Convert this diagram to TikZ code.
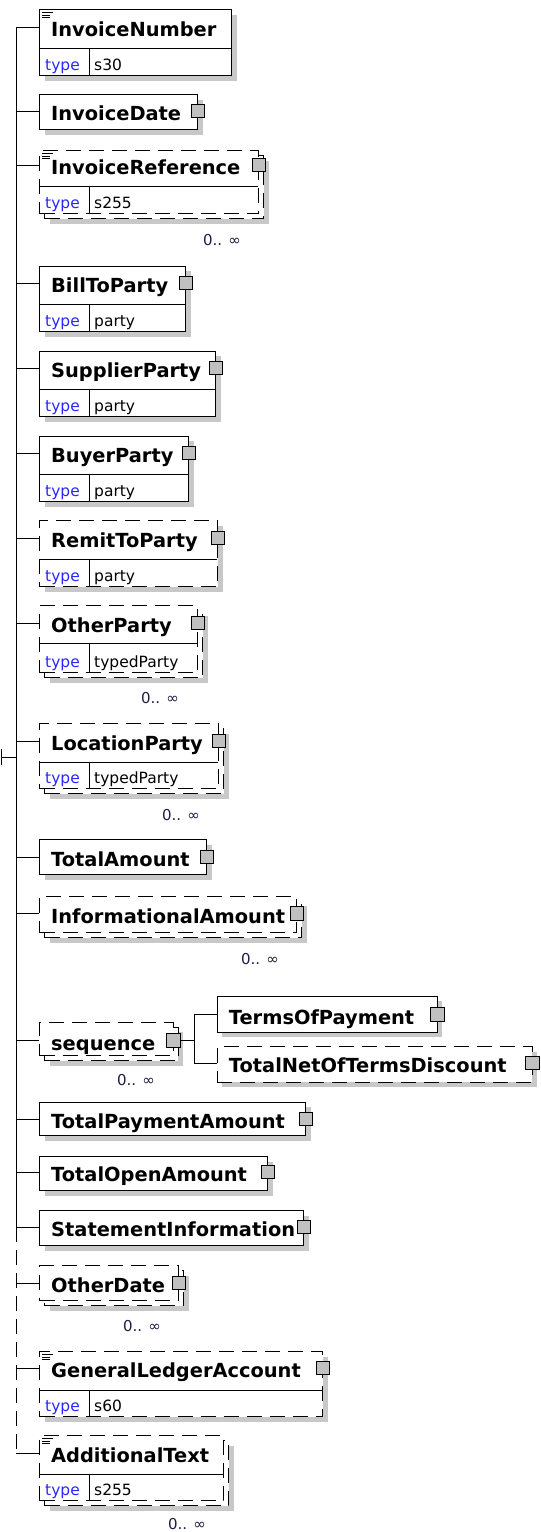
\documentclass[tikz,border=0pt]{standalone}
\usepackage{fontspec}
\setmainfont{DejaVu Sans}
\newcommand\xnamefont{\fontsize{19.4}{24}\selectfont\bfseries}
\newcommand\xtypefont{\fontsize{15.5}{18}\selectfont}
\newcommand\xmultfont{\fontsize{15}{18}\selectfont}
\definecolor{shadowgray}{RGB}{200,200,200}
\definecolor{typeblue}{RGB}{40,40,255}
\definecolor{expgray}{RGB}{192,192,192}
\definecolor{multcol}{RGB}{30,30,70}
\tikzset{
  solidbox/.style={draw=black, line width=1pt, fill=white, inner sep=0pt, anchor=north west},
  dashbox/.style={solidbox, dash pattern=on 15pt off 8pt},
  dropsh/.style={preaction={fill=shadowgray, draw=none, transform canvas={shift={(5pt,-5pt)}}}},
  elname/.style={font=\xnamefont, anchor=west, inner sep=0pt, text height=20pt, text depth=1pt},
  tkey/.style={font=\xtypefont, text=typeblue, anchor=base west, inner sep=0pt},
  tval/.style={font=\xtypefont, anchor=base west, inner sep=0pt},
  multlbl/.style={font=\xmultfont, text=multcol, inner sep=0pt},
  plusbox/.style={draw=black, fill=expgray, line width=1pt, minimum width=13.5pt, minimum height=13.5pt, inner sep=0pt},
  wire/.style={line width=1pt},
  dwire/.style={line width=1pt, dash pattern=on 15pt off 8pt},
  menuln/.style={line width=0.9pt},
}
\begin{document}
\begin{tikzpicture}[x=1pt, y=-1pt]
\useasboundingbox (0,0) rectangle (541,1532);
\fill[white] (0,0) rectangle (541,1532);

% 1 InvoiceNumber
\node[solidbox, dropsh, minimum width=192pt, minimum height=65.7pt] (b1) at (39,9.3) {};
\draw[wire] (39,48) -- (231,48);
\draw[wire] (89,48) -- (89,75);
\draw[menuln] (42,12.5) -- (53,12.5) (42,15) -- (50,15) (42,17.5) -- (50,17.5);
\node[elname] (l1) at (51,27) {InvoiceNumber};
\node[tkey] (k1) at (45,70) {type};
\node[tval] (v1) at (94,70) {s30};

% 2 InvoiceDate
\node[solidbox, dropsh, minimum width=158pt, minimum height=35pt] (b2) at (39,94) {};
\node[elname] (l2) at (51,111) {InvoiceDate};
\node[plusbox] (s2) at (b2.east |- l2.west) {};

% 3 InvoiceReference
\node[dashbox, dropsh, minimum width=219pt, minimum height=63pt] (bb3) at (44,155) {};
\node[dashbox, minimum width=219pt, minimum height=63pt] (b3) at (39,150) {};
\draw[wire] (39,186.7) -- (258,186.7);
\draw[wire] (89,186.7) -- (89,213);
\draw[menuln] (42,153.5) -- (53,153.5) (42,156) -- (50,156) (42,158.5) -- (50,158.5);
\node[elname] (l3) at (51,165) {InvoiceReference};
\node[plusbox] (s3) at (b3.east |- l3.west) {};
\node[tkey] (k3) at (45,208) {type};
\node[tval] (v3) at (94,208) {s255};
\node[multlbl] (m3) at (222,240) {0.. ∞};

% 4 BillToParty
\node[solidbox, dropsh, minimum width=146pt, minimum height=65.3pt] (b4) at (39,265.7) {};
\draw[wire] (39,304) -- (185,304);
\draw[wire] (89,304) -- (89,331);
\node[elname] (l4) at (51,283) {BillToParty};
\node[plusbox] (s4) at (b4.east |- l4.west) {};
\node[tkey] (k4) at (45,326) {type};
\node[tval] (v4) at (94,326) {party};

% 5 SupplierParty
\node[solidbox, dropsh, minimum width=176pt, minimum height=65.3pt] (b5) at (39,350.7) {};
\draw[wire] (39,389) -- (215,389);
\draw[wire] (89,389) -- (89,416);
\node[elname] (l5) at (51,368) {SupplierParty};
\node[plusbox] (s5) at (b5.east |- l5.west) {};
\node[tkey] (k5) at (45,411) {type};
\node[tval] (v5) at (94,411) {party};

% 6 BuyerParty
\node[solidbox, dropsh, minimum width=149pt, minimum height=65.3pt] (b6) at (39,435.7) {};
\draw[wire] (39,474) -- (188,474);
\draw[wire] (89,474) -- (89,501);
\node[elname] (l6) at (51,453) {BuyerParty};
\node[plusbox] (s6) at (b6.east |- l6.west) {};
\node[tkey] (k6) at (45,496) {type};
\node[tval] (v6) at (94,496) {party};

% 7 RemitToParty
\node[dashbox, dropsh, minimum width=178pt, minimum height=66pt] (b7) at (39,520) {};
\draw[wire] (39,559) -- (217,559);
\draw[wire] (89,559) -- (89,586);
\node[elname] (l7) at (51,538) {RemitToParty};
\node[plusbox] (s7) at (b7.east |- l7.west) {};
\node[tkey] (k7) at (45,581) {type};
\node[tval] (v7) at (94,581) {party};

% 8 OtherParty
\node[dashbox, dropsh, minimum width=158pt, minimum height=67pt] (bb8) at (44,610) {};
\node[dashbox, minimum width=158pt, minimum height=67pt] (b8) at (39,605) {};
\draw[wire] (39,643) -- (197,643);
\draw[wire] (89,643) -- (89,672);
\node[elname] (l8) at (51,623) {OtherParty};
\node[plusbox] (s8) at (b8.east |- l8.west) {};
\node[tkey] (k8) at (45,667) {type};
\node[tval] (v8) at (94,667) {typedParty};
\node[multlbl] (m8) at (160,698) {0.. ∞};

% 9 LocationParty
\node[dashbox, dropsh, minimum width=179pt, minimum height=65pt] (bb9) at (44,728) {};
\node[dashbox, minimum width=179pt, minimum height=65pt] (b9) at (39,723) {};
\draw[wire] (39,762) -- (218,762);
\draw[wire] (89,762) -- (89,788);
\node[elname] (l9) at (51,741) {LocationParty};
\node[plusbox] (s9) at (b9.east |- l9.west) {};
\node[tkey] (k9) at (45,783) {type};
\node[tval] (v9) at (94,783) {typedParty};
\node[multlbl] (m9) at (181,815) {0.. ∞};

% 10 TotalAmount
\node[solidbox, dropsh, minimum width=167pt, minimum height=35pt] (b10) at (39,839) {};
\node[elname] (l10) at (51,857) {TotalAmount};
\node[plusbox] (s10) at (b10.east |- l10.west) {};

% 11 InformationalAmount
\node[dashbox, dropsh, minimum width=257pt, minimum height=36.5pt] (bb11) at (44,900.5) {};
\node[dashbox, minimum width=257pt, minimum height=36.5pt] (b11) at (39,895.5) {};
\node[elname] (l11) at (51,913.5) {InformationalAmount};
\node[plusbox] (s11) at (b11.east |- l11.west) {};
\node[multlbl] (m11) at (260,959) {0.. ∞};

% 12 sequence
\node[dashbox, dropsh, minimum width=133.5pt, minimum height=33.5pt] (bb12) at (44,1026.5) {};
\node[dashbox, minimum width=133.5pt, minimum height=33.5pt] (b12) at (39,1021.5) {};
\node[elname] (l12) at (51,1040.5) {sequence};
\node[plusbox] (s12) at (b12.east |- l12.west) {};
\node[multlbl] (m12) at (136,1080) {0.. ∞};

% 13 TermsOfPayment
\node[solidbox, dropsh, minimum width=219.8pt, minimum height=36.2pt] (b13) at (216.7,995.6) {};
\node[elname] (l13) at (228.7,1014.6) {TermsOfPayment};
\node[plusbox] (s13) at (b13.east |- l13.west) {};

% 14 TotalNetOfTermsDiscount
\node[dashbox, dropsh, minimum width=315pt, minimum height=35.7pt] (b14) at (216.7,1046) {};
\node[elname] (l14) at (228.7,1063) {TotalNetOfTermsDiscount};
\node[plusbox] (s14) at (b14.east |- l14.west) {};

% 15 TotalPaymentAmount
\node[solidbox, dropsh, minimum width=266pt, minimum height=33.3pt] (b15) at (39,1101.7) {};
\node[elname] (l15) at (51,1119) {TotalPaymentAmount};
\node[plusbox] (s15) at (b15.east |- l15.west) {};

% 16 TotalOpenAmount
\node[solidbox, dropsh, minimum width=228pt, minimum height=34pt] (b16) at (39,1156) {};
\node[elname] (l16) at (51,1172) {TotalOpenAmount};
\node[plusbox] (s16) at (b16.east |- l16.west) {};

% 17 StatementInformation
\node[solidbox, dropsh, minimum width=264pt, minimum height=35pt] (b17) at (39,1210) {};
\node[elname] (l17) at (51,1227) {StatementInformation};
\node[plusbox] (s17) at (b17.east |- l17.west) {};

% 18 OtherDate
\node[dashbox, dropsh, minimum width=139pt, minimum height=35pt] (bb18) at (44,1270) {};
\node[dashbox, minimum width=139pt, minimum height=35pt] (b18) at (39,1265) {};
\node[elname] (l18) at (51,1283) {OtherDate};
\node[plusbox] (s18) at (b18.east |- l18.west) {};
\node[multlbl] (m18) at (142,1326) {0.. ∞};

% 19 GeneralLedgerAccount
\node[dashbox, dropsh, minimum width=283pt, minimum height=65pt] (b19) at (39,1351) {};
\draw[wire] (39,1390) -- (322,1390);
\draw[wire] (89,1390) -- (89,1416);
\draw[menuln] (42,1354.5) -- (53,1354.5) (42,1357) -- (50,1357) (42,1359.5) -- (50,1359.5);
\node[elname] (l19) at (51,1368) {GeneralLedgerAccount};
\node[plusbox] (s19) at (b19.east |- l19.west) {};
\node[tkey] (k19) at (45,1411) {type};
\node[tval] (v19) at (94,1411) {s60};

% 20 AdditionalText
\node[dashbox, dropsh, minimum width=184pt, minimum height=65pt] (bb20) at (44,1440) {};
\node[dashbox, minimum width=184pt, minimum height=65pt] (b20) at (39,1435) {};
\draw[wire] (39,1474) -- (223,1474);
\draw[wire] (89,1474) -- (89,1500);
\draw[menuln] (42,1438.5) -- (53,1438.5) (42,1441) -- (50,1441) (42,1443.5) -- (50,1443.5);
\node[elname] (l20) at (51,1453) {AdditionalText};
\node[tkey] (k20) at (45,1495) {type};
\node[tval] (v20) at (94,1495) {s255};
\node[multlbl] (m20) at (187,1524) {0.. ∞};

% spine and connectors
\coordinate (spine) at (16,0);
\coordinate (root) at (1,757);
\coordinate (rootT) at (1,749);
\coordinate (rootB) at (1,765);
\draw[wire] (rootT) -- (rootB);
\draw[wire] (root) -- (spine |- root);
\draw[wire] (spine |- l1.west) -- (spine |- l17.west);
\draw[dwire] (spine |- l17.west) -- (spine |- l20.west);
\foreach \i in {1,2,3,4,5,6,7,8,9,10,11,12,15,16,17,18,19,20}{
  \draw[wire] (spine |- l\i.west) -- (b\i.west |- l\i.west);
}
\coordinate (seqjoin) at (194,0);
\draw[wire] (s12.east) -- (seqjoin |- s12.east);
\draw[wire] (seqjoin |- l13.west) -- (seqjoin |- l14.west);
\draw[wire] (seqjoin |- l13.west) -- (b13.west |- l13.west);
\draw[wire] (seqjoin |- l14.west) -- (b14.west |- l14.west);
\end{tikzpicture}
\end{document}
